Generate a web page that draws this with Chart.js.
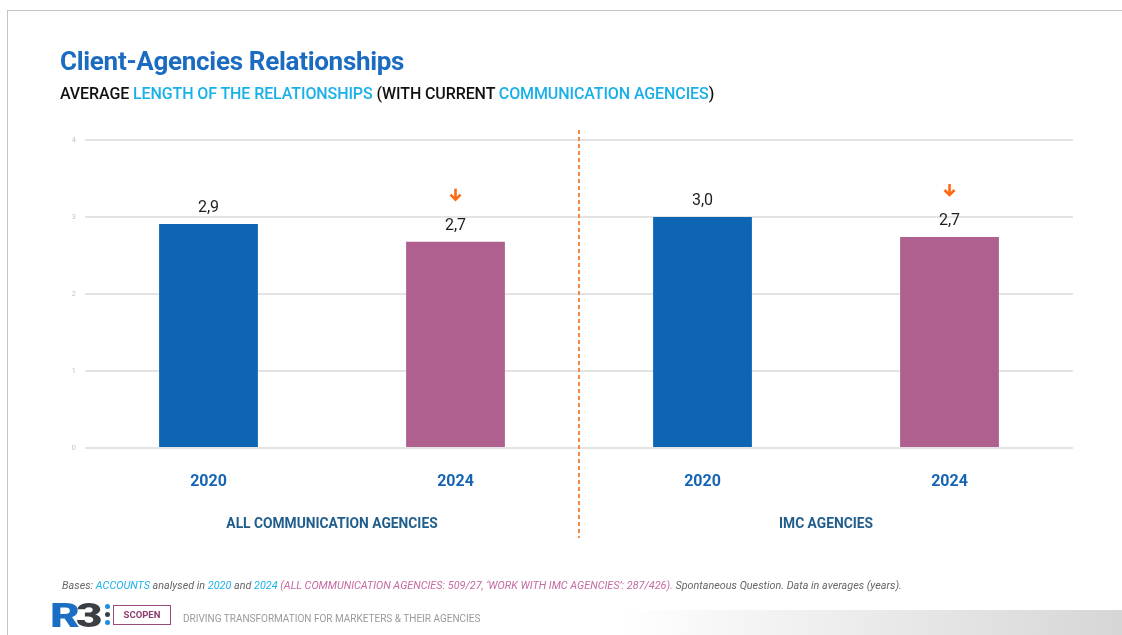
<!DOCTYPE html>
<html>
<head>
<meta charset="utf-8">
<script src="https://cdn.jsdelivr.net/npm/chart.js@4.4.1/dist/chart.umd.min.js"></script>
<style>
  html, body { margin: 0; padding: 0; background: #fff; }
  #slide { position: relative; width: 1122px; height: 635px; overflow: hidden; font-family: Roboto, "Liberation Sans", sans-serif; }
  #frame { position: absolute; left: 7px; top: 10px; right: -2px; bottom: -2px; border-top: 1px solid #c4c4c4; border-left: 1px solid #c4c4c4; }
  #chartBox { position: absolute; left: 0; top: 0; width: 1122px; height: 635px; }
  .title { position: absolute; left: 60px; top: 46px; font-size: 26px; font-weight: 700; color: #1b6cc1; letter-spacing: -0.3px; }
  .subtitle { position: absolute; left: 60px; top: 84px; font-size: 16px; font-weight: 500; color: #111; letter-spacing: -0.1px; }
  .subtitle .hl { color: #19b0ea; }
  .bases { position: absolute; left: 62px; top: 579px; font-size: 10.8px; font-style: italic; color: #666; }
  .bases .c { color: #1fb0ea; }
  .bases .p { color: #c66aa3; }
  .logo { position: absolute; left: 50px; top: 603px; height: 26px; }
  .r3 { position: absolute; left: 0; top: -8px; font-size: 34px; font-weight: 900; letter-spacing: -3px; color: #1a6fc4;
        transform: scaleX(1.35); transform-origin: left center; }
  .r3 span { color: #3b3f45; }
  .dots { position: absolute; left: 55px; top: 1px; width: 5px; }
  .dots i { display: block; width: 5px; height: 5px; border-radius: 50%; margin-bottom: 3px; }
  .scopen { position: absolute; left: 63px; top: 2px; width: 58px; height: 20px; border: 1.5px solid #9a4a7c; box-sizing: border-box;
            font-size: 9.5px; font-weight: 700; color: #8c3c6e; text-align: center; line-height: 17px; }
  .tagline { position: absolute; left: 183px; top: 613px; font-size: 10px; color: #9a9a9a; }
  .band { position: absolute; left: 620px; top: 610px; width: 502px; height: 25px; background: linear-gradient(to right, #fff, #d6d6d6); }
</style>
</head>
<body>
<div id="slide">
  <div id="frame"></div>
  <div class="band"></div>
  <div id="chartBox"><canvas id="chart"></canvas></div>
  <div class="title">Client-Agencies Relationships</div>
  <div class="subtitle">AVERAGE <span class="hl">LENGTH OF THE RELATIONSHIPS</span> (WITH CURRENT <span class="hl">COMMUNICATION AGENCIES</span>)</div>
  <div class="bases">Bases: <span class="c">ACCOUNTS</span> analysed in <span class="c">2020</span> and <span class="c">2024</span> <span class="p">(ALL COMMUNICATION AGENCIES: 509/27, ‘WORK WITH IMC AGENCIES’: 287/426).</span> Spontaneous Question. Data in averages (years).</div>
  <div class="logo">
    <div class="r3">R<span>3</span></div>
    <div class="dots"><i style="background:#1a8fe0"></i><i style="background:#3b3f45"></i><i style="background:#1a8fe0"></i></div>
    <div class="scopen">SCOPEN</div>
  </div>
  <div class="tagline">DRIVING TRANSFORMATION FOR MARKETERS &amp; THEIR AGENCIES</div>
</div>

<script>
// years per bar, two groups of two
var years = ["2020", "2024", "2020", "2024"];
var avgLength = [2.91, 2.68, 3.0, 2.74];
var trend = [null, "down", null, "down"];
var groups = ["ALL COMMUNICATION AGENCIES", "IMC AGENCIES"];
var yTicks = [0, 1, 2, 3, 4];

var BLUE = "#0e65b3";
var PINK = "#b0608e";
var ORANGE = "#ff6a10";

// value labels, trend arrows, group divider and group names
var extras = {
  id: "extras",
  afterDatasetsDraw: function (chart) {
    var ctx = chart.ctx;
    var meta = chart.getDatasetMeta(0);
    var xs = chart.scales.x;
    var area = chart.chartArea;

    ctx.save();
    ctx.textAlign = "center";
    ctx.textBaseline = "middle";
    meta.data.forEach(function (bar, i) {
      ctx.fillStyle = "#1e1e1e";
      ctx.font = "16px Roboto, sans-serif";
      ctx.fillText(avgLength[i].toFixed(1).replace(".", ","), bar.x, bar.y - 16);

      if (trend[i] === "down") {
        var ay = bar.y - 47;
        ctx.strokeStyle = ORANGE;
        ctx.lineWidth = 2.6;
        ctx.lineCap = "butt";
        ctx.beginPath();
        ctx.moveTo(bar.x, ay - 6);
        ctx.lineTo(bar.x, ay + 5);
        ctx.stroke();
        ctx.beginPath();
        ctx.moveTo(bar.x - 5, ay);
        ctx.lineTo(bar.x, ay + 5);
        ctx.lineTo(bar.x + 5, ay);
        ctx.stroke();
      }
    });

    // dashed divider between the two groups
    var midX = (xs.getPixelForValue(1) + xs.getPixelForValue(2)) / 2;
    ctx.strokeStyle = "#f58a45";
    ctx.lineWidth = 2;
    ctx.setLineDash([4, 3]);
    ctx.beginPath();
    ctx.moveTo(midX, area.top - 10);
    ctx.lineTo(midX, 538);
    ctx.stroke();
    ctx.setLineDash([]);

    // group names under each pair of bars
    ctx.fillStyle = "#1f5e8c";
    ctx.font = "bold 13.8px Roboto, sans-serif";
    groups.forEach(function (g, k) {
      var cx = (xs.getPixelForValue(k * 2) + xs.getPixelForValue(k * 2 + 1)) / 2;
      ctx.fillText(g, cx, 525);
    });
    ctx.restore();
  }
};

new Chart(document.getElementById("chart"), {
  type: "bar",
  data: {
    labels: years,
    datasets: [
      {
        data: avgLength,
        backgroundColor: [BLUE, PINK, BLUE, PINK],
        borderWidth: 0,
        categoryPercentage: 1,
        barPercentage: 0.4,
      },
    ],
  },
  options: {
    responsive: true,
    maintainAspectRatio: false,
    animation: false,
    layout: {
      padding: { left: 65, right: 49, top: 140, bottom: 127 },
    },
    plugins: {
      legend: { display: false },
      tooltip: { enabled: false },
    },
    scales: {
      x: {
        grid: { display: false },
        border: { display: false },
        ticks: {
          color: "#1565b4",
          padding: 16,
          font: { family: "Roboto, sans-serif", size: 16, weight: "bold" },
        },
        afterFit: function (scale) {
          scale.height = 60;
        },
      },
      y: {
        min: 0,
        max: 4,
        afterBuildTicks: function (scale) {
          scale.ticks = yTicks.map(function (v) { return { value: v }; });
        },
        grid: { color: "#e4e4e4", lineWidth: 2, drawTicks: false },
        border: { display: false },
        ticks: {
          color: "#c8c8c8",
          padding: 9,
          font: { family: "Roboto, sans-serif", size: 8 },
        },
        afterFit: function (scale) {
          scale.width = 20;
        },
      },
    },
  },
  plugins: [extras],
});
</script>
</body>
</html>
